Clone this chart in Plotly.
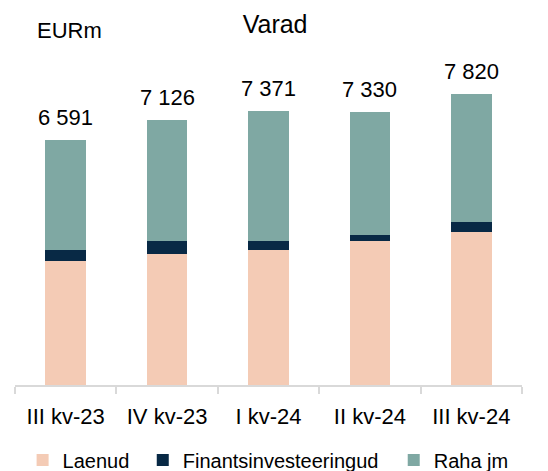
import plotly.graph_objects as go

categories = ["III kv-23", "IV kv-23", "I kv-24", "II kv-24", "III kv-24"]
laenud = [3347, 3530, 3634, 3866, 4107]
finants = [277, 350, 242, 180, 280]
totals = [6591, 7126, 7371, 7330, 7820]
raha = [t - a - b for t, a, b in zip(totals, laenud, finants)]
total_labels = ["6 591", "7 126", "7 371", "7 330", "7 820"]

FONT = "Arial, Liberation Sans, sans-serif"

fig = go.Figure()
fig.add_trace(go.Bar(name="Laenud", x=categories, y=laenud, marker_color="#F4CBB5",
                     marker_line_width=0, legend="legend"))
fig.add_trace(go.Bar(name="Finantsinvesteeringud", x=categories, y=finants, marker_color="#082945",
                     marker_line_width=0, legend="legend2"))
fig.add_trace(go.Bar(name="Raha jm", x=categories, y=raha, marker_color="#7FA8A3",
                     marker_line_width=0, legend="legend3"))

for c, t, lab in zip(categories, totals, total_labels):
    fig.add_annotation(x=c, y=t, text=lab, showarrow=False, yanchor="bottom",
                       yshift=8, font=dict(family=FONT, size=22, color="#000000"))

fig.add_annotation(xref="paper", yref="paper", x=0.108, y=1.092, text="EURm", showarrow=False,
                   xanchor="center", yanchor="middle", font=dict(family=FONT, size=22, color="#000000"))

leg_common = dict(orientation="h", xanchor="left", y=-0.231, yanchor="middle",
                  font=dict(family=FONT, size=20, color="#000000"), itemwidth=30,
                  bgcolor="rgba(0,0,0,0)")

fig.update_layout(
    width=548, height=471,
    barmode="stack", bargap=0.6,
    paper_bgcolor="white", plot_bgcolor="white",
    margin=dict(l=15, r=26, t=60, b=86, autoexpand=False),
    title=dict(text="Varad", x=0.502, xref="container", xanchor="center",
               y=0.949, yref="container", yanchor="middle",
               font=dict(family=FONT, size=25, color="#000000")),
    showlegend=True,
    legend=dict(x=0.015, **leg_common),
    legend2=dict(x=0.252, **leg_common),
    legend3=dict(x=0.747, **leg_common),
    font=dict(family=FONT, color="#000000"),
)
fig.update_xaxes(showline=True, linecolor="#D9D9D9", linewidth=2, ticks="outside",
                 ticklen=7, tickcolor="#D9D9D9", tickwidth=2, tickson="boundaries",
                 ticklabelstandoff=11,
                 tickfont=dict(family=FONT, size=22, color="#000000"), showgrid=False,
                 automargin=False)
fig.update_yaxes(visible=False, range=[0, 8740], showgrid=False)

fig.write_html("out.html", config={"displayModeBar": False},
               post_script="document.body.style.margin='0';")
